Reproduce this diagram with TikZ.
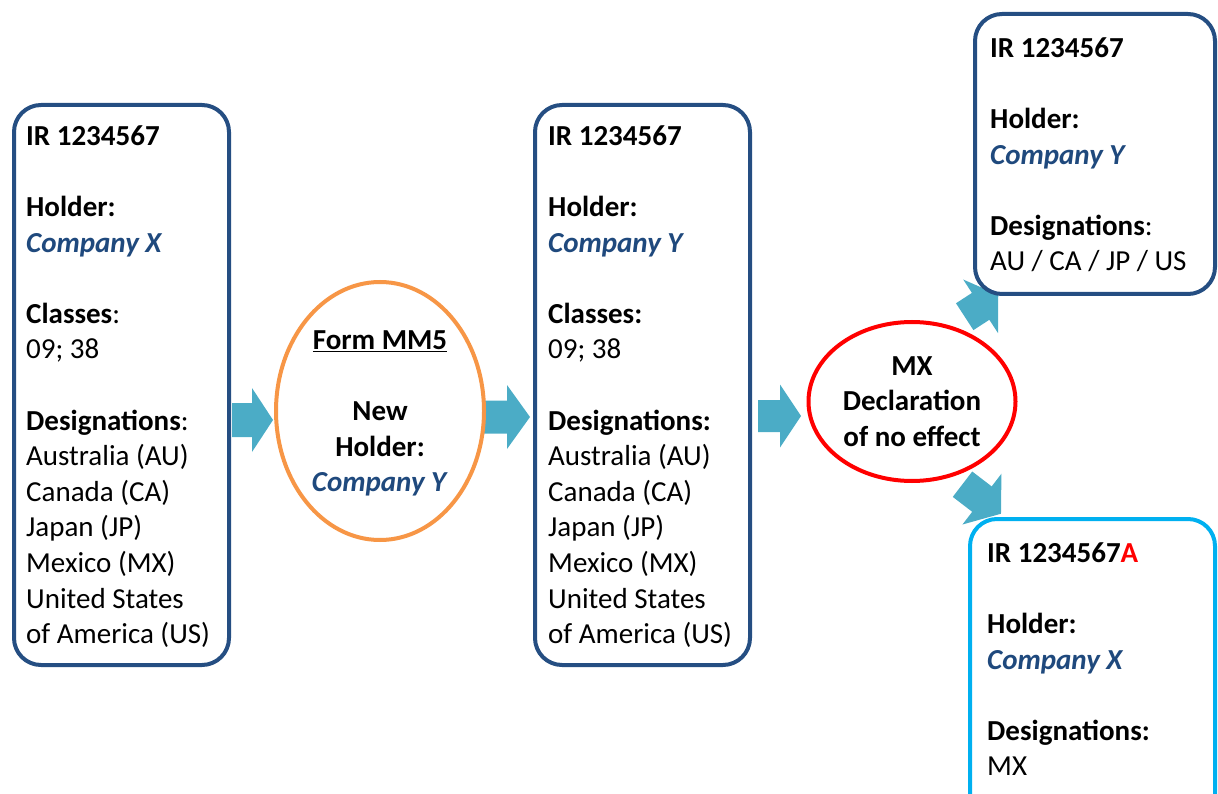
\documentclass[tikz,border=0pt]{standalone}
\usepackage{fontspec}
\setmainfont{Carlito}
\usetikzlibrary{shapes.geometric}
\definecolor{boxblue}{RGB}{37,78,130}
\definecolor{txtblue}{RGB}{31,73,125}
\definecolor{cyanbox}{RGB}{0,176,240}
\definecolor{orangeell}{RGB}{247,150,70}
\definecolor{redell}{RGB}{255,0,0}
\definecolor{arrowcol}{RGB}{75,172,198}
\newcommand\blkarrow[7]{\fill[arrowfill,shift={(#1,#2)},rotate=#3] (0,-#6) -- (#4,-#6) -- (#4,-#7) -- ({#4+#5},0) -- (#4,#7) -- (#4,#6) -- (0,#6) -- cycle;}
\newcommand\cmp[1]{\textcolor{txtblue}{\textbf{\textit{Company #1}}}}
\begin{document}
\begin{tikzpicture}[x=1pt,y=-1pt,
  arrowfill/.style={fill=arrowcol},
  irbox/.style={draw=boxblue,line width=4pt,rounded corners=27pt,fill=white,inner sep=0pt},
  newbox/.style={irbox,draw=cyanbox},
  ellbox/.style={ellipse,line width=4pt,fill=white,inner sep=0pt},
  txt/.style={font=\fontsize{29}{35.6}\selectfont,align=left,anchor=north west,inner sep=0pt},
  ctxt/.style={txt,align=center,anchor=north}]
\useasboundingbox (0,0) rectangle (1218,794);
\clip (0,0) rectangle (1218,794);
% block arrows
\blkarrow{232}{420}{0}{20}{21}{17}{32}
\blkarrow{483}{417}{0}{24}{23}{16.5}{32}
\blkarrow{758}{416}{0}{22}{21}{16}{31.5}
\blkarrow{964.7}{316.7}{33}{19}{21}{16}{32}
\blkarrow{962.5}{484.2}{-37.5}{24.5}{24}{16}{32}
% boxes
\node[irbox,minimum width=215pt,minimum height=560pt] (b1) at (121.5,385) {};
\node[irbox,minimum width=215pt,minimum height=560pt] (b2) at (642.5,385) {};
\node[irbox,minimum width=240pt,minimum height=280pt] (b3) at (1095,154) {};
\node[newbox,minimum width=245pt,minimum height=331pt] (b4) at (1092.5,684.5) {};
\node[ellbox,draw=orangeell,minimum width=208pt,minimum height=258pt] (e1) at (380,411) {};
\node[ellbox,draw=redell,minimum width=207pt,minimum height=159pt] (e2) at (912,401.5) {};
% texts
\node[txt] (t1) at (26,120.1) {\strut\textbf{IR 1234567}\\[35.6pt]
\textbf{Holder:}\\ \cmp{X}\\[35.6pt]
\textbf{Classes}:\\ 09; 38\\[35.6pt]
\textbf{Designations}:\\ Australia (AU)\\ Canada (CA)\\ Japan (JP)\\ Mexico (MX)\\ United States\\ of America (US)};
\node[txt] (t2) at (548,120.1) {\strut\textbf{IR 1234567}\\[35.6pt]
\textbf{Holder:}\\ \cmp{Y}\\[35.6pt]
\textbf{Classes:}\\ 09; 38\\[35.6pt]
\textbf{Designations:}\\ Australia (AU)\\ Canada (CA)\\ Japan (JP)\\ Mexico (MX)\\ United States\\ of America (US)};
\node[txt] (t3) at (990,32.1) {\strut\textbf{IR 1234567}\\[35.6pt]
\textbf{Holder:}\\ \cmp{Y}\\[35.6pt]
\textbf{Designations}:\\ AU / CA / JP / US};
\node[txt] (t4) at (987,537.1) {\strut\textbf{IR 1234567\textcolor{redell}{A}}\\[35.6pt]
\textbf{Holder:}\\ \cmp{X}\\[35.6pt]
\textbf{Designations:}\\ MX};
\node[ctxt] (t5) at (380,324.1) {\strut\textbf{\underline{Form MM5}}\\[35.6pt]
\textbf{New}\\ \textbf{Holder:}\\ \cmp{Y}};
\node[ctxt] (t6) at (912,350.1) {\strut\textbf{MX}\\ \textbf{Declaration}\\ \textbf{of no effect}};
\end{tikzpicture}
\end{document}
